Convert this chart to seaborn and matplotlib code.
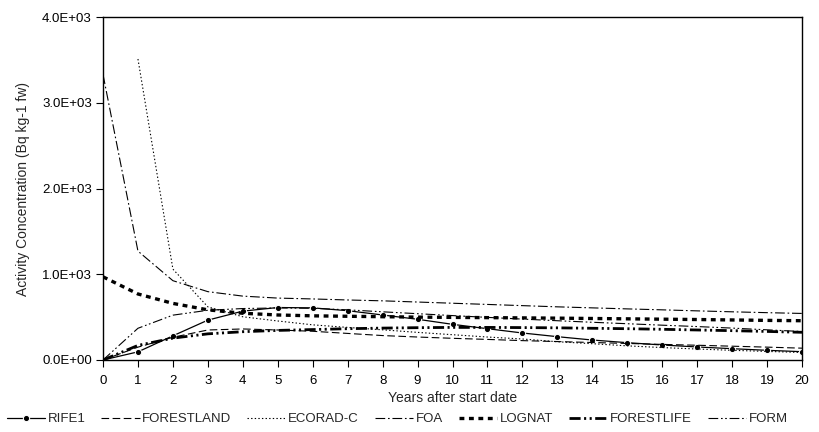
import numpy as np
import pandas as pd
import matplotlib
matplotlib.use("Agg")
import matplotlib.pyplot as plt
import seaborn as sns

years = list(range(0, 21))
RIFE1 = [0, 95, 282, 465, 570, 612, 608, 575, 525, 475, 416, 365, 315, 272, 233, 202, 175, 152, 132, 113, 97]
FORESTLAND = [0, 150, 265, 350, 362, 350, 335, 310, 285, 268, 253, 240, 226, 215, 204, 193, 182, 172, 161, 150, 138]
ECORAD_C = [np.nan, 3510, 1060, 620, 504, 455, 410, 380, 352, 322, 295, 268, 245, 213, 190, 165, 145, 128, 113, 100, 88]
FOA = [3330, 1270, 925, 797, 745, 722, 712, 700, 690, 676, 662, 648, 634, 620, 608, 596, 585, 573, 562, 552, 543]
LOGNAT = [970, 770, 660, 585, 545, 525, 515, 510, 505, 500, 497, 494, 491, 488, 484, 480, 476, 472, 467, 462, 458]
FORESTLIFE = [0, 170, 255, 305, 330, 345, 355, 365, 372, 377, 380, 380, 378, 375, 370, 365, 358, 350, 342, 333, 323]
FORM = [0, 370, 523, 580, 600, 607, 603, 585, 562, 540, 518, 497, 477, 458, 440, 423, 406, 390, 372, 352, 332]

series_names = ["RIFE1", "FORESTLAND", "ECORAD-C", "FOA", "LOGNAT", "FORESTLIFE", "FORM"]
series_values = [RIFE1, FORESTLAND, ECORAD_C, FOA, LOGNAT, FORESTLIFE, FORM]
y_ticks = [0, 1000, 2000, 3000, 4000]

sns.set_style("ticks")
plt.rcParams["font.family"] = ["Liberation Sans", "DejaVu Sans"]
plt.rcParams["lines.scale_dashes"] = False

styles = {
    "RIFE1": dict(linestyle="-", lw=0.9, marker="o", markersize=4.5),
    "FORESTLAND": dict(linestyle=(0, (5.5, 2.5)), lw=0.8),
    "ECORAD-C": dict(linestyle=(0, (1, 1.6)), lw=0.8),
    "FOA": dict(linestyle=(0, (7, 2, 1.2, 2)), lw=0.8),
    "LOGNAT": dict(linestyle=(0, (3.5, 3.3)), lw=2.4),
    "FORESTLIFE": dict(linestyle=(0, (8, 2.5, 1.5, 2.5, 1.5, 2.5)), lw=2.0),
    "FORM": dict(linestyle=(0, (7, 2, 1.2, 1.8, 1.2, 2)), lw=0.8),
}

fig = plt.figure(figsize=(8.19, 4.32), dpi=100)
ax = fig.add_axes([103/819, 1-360/432, (802-103)/819, (360-17)/432])

for name, vals in zip(series_names, series_values):
    df = pd.DataFrame({"Year": years, "Value": vals})
    sns.lineplot(data=df, x="Year", y="Value", ax=ax, color="black", label=name,
                 **styles[name])

ax.set_xlim(0, 20)
ax.set_ylim(0, 4000)
ax.set_xticks(years)
ax.set_yticks(y_ticks)
ax.set_yticklabels(["{:.1E}".format(v) for v in y_ticks])
ax.tick_params(axis="both", direction="out", length=5, width=0.8, labelsize=9.5, colors="black")
ax.tick_params(axis="x", pad=6)
ax.tick_params(axis="y", pad=3)
ax.set_xlabel("Years after start date", fontsize=10, labelpad=3)
ax.set_ylabel("Activity Concentration (Bq kg-1 fw)", fontsize=10, labelpad=9)
for s in ax.spines.values():
    s.set_visible(True)
    s.set_color("black")
    s.set_linewidth(1.0)

handles, labels = ax.get_legend_handles_labels()
ax.get_legend().remove()
fig.legend(handles, labels, loc="center", bbox_to_anchor=(0.485, 1-419/432), ncol=7,
           frameon=False, fontsize=9.5, handlelength=2.9, handletextpad=0.2,
           columnspacing=1.2, borderaxespad=0)

fig.savefig("out.png", dpi=100)
